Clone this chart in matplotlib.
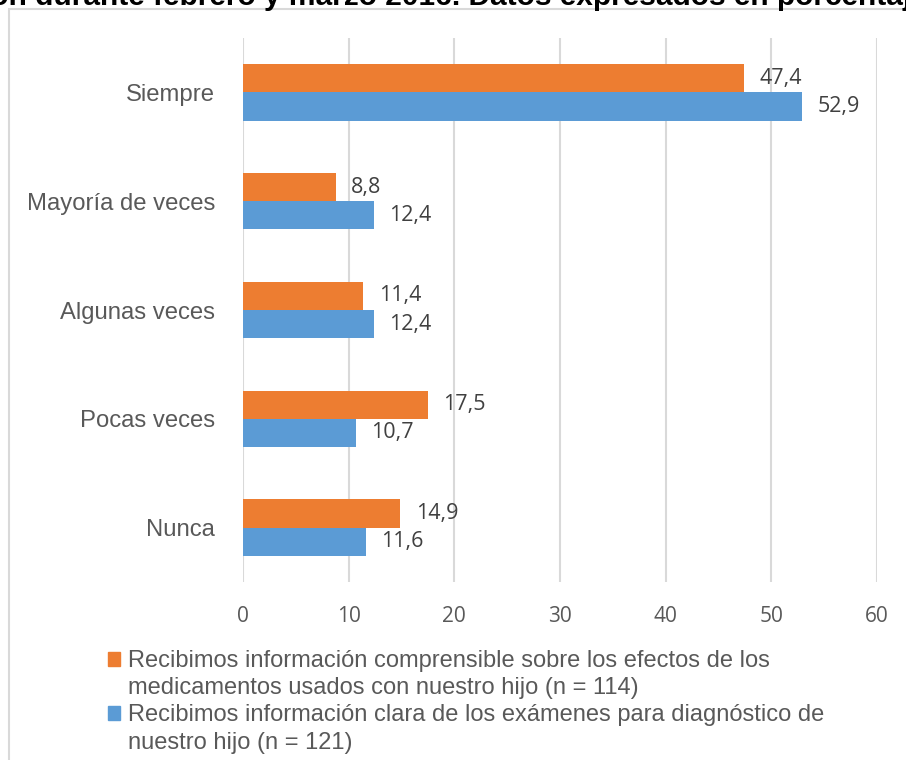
import matplotlib

matplotlib.use("Agg")
import matplotlib.pyplot as plt
import numpy as np
from matplotlib.patches import Rectangle

ORANGE = "#ED7D31"
BLUE = "#5B9BD5"
GRID = "#d9d9d9"
TXT = "#595959"

categories = ["Siempre", "Mayoría de veces", "Algunas veces", "Pocas veces", "Nunca"]
efectos = [47.4, 8.8, 11.4, 17.5, 14.9]
examenes = [52.9, 12.4, 12.4, 10.7, 11.6]
series_labels = [
    ("Recibimos información comprensible sobre los efectos de los",
     "medicamentos usados con nuestro hijo (n = 114)"),
    ("Recibimos información clara de los exámenes para diagnóstico de",
     "nuestro hijo (n = 121)"),
]
xticks = [0, 10, 20, 30, 40, 50, 60]

fig = plt.figure(figsize=(9.06, 7.6), dpi=100)
ax = fig.add_axes([243 / 906, 1 - 582 / 760, 634 / 906, 544 / 760])

y = np.arange(len(categories))[::-1]
h = 0.26
b1 = ax.barh(y + h / 2, efectos, h, color=ORANGE, zorder=3)
b2 = ax.barh(y - h / 2, examenes, h, color=BLUE, zorder=3)

lab_font = ["Open Sans", "DejaVu Sans"]
for bars in (b1, b2):
    for rect in bars:
        v = rect.get_width()
        ax.annotate(f"{v:.1f}".replace(".", ","),
                    (v, rect.get_y() + rect.get_height() / 2),
                    xytext=(11, 0), textcoords="offset points",
                    va="center", ha="left", fontsize=15.5, color="#404040",
                    family=lab_font)

ax.set_xlim(0, 60)
ax.set_ylim(-0.5, len(categories) - 0.5)
ax.set_xticks(xticks)
ax.set_xticklabels([str(t) for t in xticks], family=lab_font, fontsize=15, color=TXT)
ax.set_yticks(y)
ax.set_yticklabels(categories, family=["Liberation Sans"], fontsize=17.2, color=TXT)
ax.tick_params(length=0)
ax.tick_params(axis="x", pad=17)
ax.tick_params(axis="y", pad=20)
ax.grid(axis="x", color=GRID, linewidth=1.5, zorder=0)
for s in ax.spines.values():
    s.set_visible(False)

# chart frame (only top/left edges fall inside the image)
fig.patches.append(Rectangle((9 / 906, -0.1), 1.2, 1 - 9 / 760 + 0.1,
                             transform=fig.transFigure, fill=False,
                             edgecolor=GRID, linewidth=1.5))

# heading running off the top edge
fig.text(-18 / 906, 1 - 5 / 760,
         "ión durante febrero y marzo 2016. Datos expresados en porcentaje",
         ha="left", va="baseline", fontsize=21.5, fontweight="bold",
         family=["Liberation Sans"], color="black")

# legend: one row per text line so the swatch sits on the first line
blank = Rectangle((0, 0), 1, 1, alpha=0)
handles = [Rectangle((0, 0), 1, 1, color=ORANGE), blank,
           Rectangle((0, 0), 1, 1, color=BLUE), blank]
labels = [series_labels[0][0], series_labels[0][1],
          series_labels[1][0], series_labels[1][1]]
fig.legend(handles, labels, loc="upper left", bbox_to_anchor=(108 / 906, 1 - 650 / 760),
           frameon=False, handlelength=0.52, handleheight=0.52, handletextpad=0.34,
           labelspacing=0.22, borderpad=0, borderaxespad=0,
           prop={"family": ["Liberation Sans"], "size": 17}, labelcolor=TXT)

fig.savefig("out.png", dpi=100)
